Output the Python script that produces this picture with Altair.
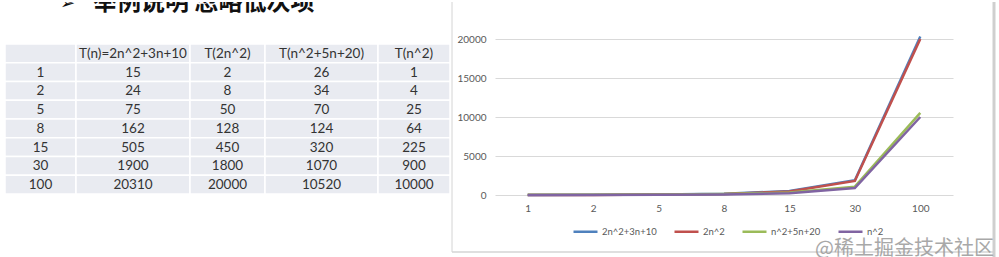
import altair as alt
import pandas as pd

# ---------------- data ----------------
n_values = ["1", "2", "5", "8", "15", "30", "100"]
headers = ["", "T(n)=2n^2+3n+10", "T(2n^2)", "T(n^2+5n+20)", "T(n^2)"]
t_a = [15, 24, 75, 162, 505, 1900, 20310]
t_b = [2, 8, 50, 128, 450, 1800, 20000]
t_c = [26, 34, 70, 124, 320, 1070, 10520]
t_d = [1, 4, 25, 64, 225, 900, 10000]
series_names = ["2n^2+3n+10", "2n^2", "n^2+5n+20", "n^2"]
y_ticks = [0, 5000, 10000, 15000, 20000]
title_text = "举例说明 忽略低次项"
arrow_text = "➢"
watermark_text = "@稀土掘金技术社区"

# ---------------- styles / layout ----------------
series_colors = ["#4f81bd", "#c0504d", "#9bbb59", "#8064a2"]
LEFT_W = 495
H = 257
col_edges = [5, 76, 190, 265, 378, 450]
row_top = 42
row_h = 18.75
PLOT_W = 458
PLOT_H = 193
Y_MAX = 20000 * PLOT_H / 156

# ---------------- table ----------------
series_vals = [t_a, t_b, t_c, t_d]
cells = []
for r in range(len(n_values) + 1):
    for c in range(len(headers)):
        if r == 0:
            label = headers[c]
        elif c == 0:
            label = n_values[r - 1]
        else:
            label = str(series_vals[c - 1][r - 1])
        x0, x1 = col_edges[c], col_edges[c + 1]
        y0 = row_top + r * row_h
        cells.append(dict(x0=x0, x1=x1, y0=y0, y1=y0 + row_h,
                          xc=(x0 + x1) / 2, yc=y0 + row_h / 2 + 0.5, label=label))
cells_df = pd.DataFrame(cells)

xs = alt.Scale(domain=[0, LEFT_W], nice=False, zero=False)
ys = alt.Scale(domain=[0, H], nice=False, zero=False, reverse=True)

table_rect = alt.Chart(cells_df).mark_rect(
    fill="#e9ebf1", stroke="#ffffff", strokeWidth=1.5
).encode(
    x=alt.X("x0:Q", scale=xs, axis=None),
    x2="x1:Q",
    y=alt.Y("y0:Q", scale=ys, axis=None),
    y2="y1:Q",
)
table_text = alt.Chart(cells_df).mark_text(
    font="Lato", fontSize=13.5, color="#333333", baseline="middle", align="center"
).encode(
    x=alt.X("xc:Q", scale=xs, axis=None),
    y=alt.Y("yc:Q", scale=ys, axis=None),
    text="label:N",
)
title = alt.Chart(pd.DataFrame({"t": [title_text]})).mark_text(
    font="Noto Sans CJK SC", fontSize=24, fontWeight="bold", color="#111111",
    align="left", baseline="alphabetic", clip=True
).encode(x=alt.value(93), y=alt.value(8), text="t:N")
arrow = alt.Chart(pd.DataFrame({"t": [arrow_text]})).mark_text(
    font="DejaVu Sans", fontSize=18, color="#111111",
    align="left", baseline="alphabetic", clip=True
).encode(x=alt.value(60), y=alt.value(7), text="t:N")

left = alt.layer(table_rect, table_text, title, arrow).properties(width=LEFT_W, height=H)

# ---------------- line chart ----------------
rows = []
for s, name in enumerate(series_names):
    for i, n in enumerate(n_values):
        rows.append(dict(n=n, series=name, value=series_vals[s][i]))
line_df = pd.DataFrame(rows)

one = pd.DataFrame({"k": [0]})
border_left = alt.Chart(one).mark_rule(color="#d4d4d4", strokeWidth=1).encode(
    x=alt.value(-43), y=alt.value(0), y2=alt.value(250))
border_bottom = alt.Chart(one).mark_rule(color="#d4d4d4", strokeWidth=1.5).encode(
    x=alt.value(-43), x2=alt.value(499), y=alt.value(250))
border_right = alt.Chart(one).mark_rule(color="#cfcfcf", strokeWidth=3).encode(
    x=alt.value(499), y=alt.value(0), y2=alt.value(257))

lines = alt.Chart(line_df).mark_line(strokeWidth=2.5).encode(
    x=alt.X("n:O", sort=n_values, title=None,
            axis=alt.Axis(labelAngle=0, ticks=False, domain=False, grid=False,
                          labelPadding=8, labelFont="Lato", labelFontSize=10,
                          labelColor="#595959")),
    y=alt.Y("value:Q", title=None,
            scale=alt.Scale(domain=[0, Y_MAX], nice=False),
            axis=alt.Axis(values=y_ticks, ticks=False, domain=False, grid=True,
                          gridColor="#d9d9d9", gridWidth=1, labelPadding=9,
                          labelFont="Lato", labelFontSize=10, labelColor="#595959",
                          format="d")),
    color=alt.Color("series:N",
                    scale=alt.Scale(domain=series_names, range=series_colors),
                    legend=alt.Legend(orient="none", legendX=572, legendY=216,
                                      direction="horizontal", title=None,
                                      symbolType="stroke", symbolSize=576,
                                      symbolStrokeWidth=2.5, labelFont="Lato",
                                      labelFontSize=9.5, labelColor="#595959",
                                      labelOffset=3, columnPadding=12, padding=0)),
)

watermark = alt.Chart(pd.DataFrame({"t": [watermark_text]})).mark_text(
    font="Noto Sans CJK SC", fontSize=20, color="#9a9a9a", opacity=0.85,
    align="left", baseline="alphabetic"
).encode(x=alt.value(320), y=alt.value(253), text="t:N")

right = alt.layer(border_left, border_bottom, border_right, lines, watermark).properties(
    width=PLOT_W, height=PLOT_H)

chart = alt.hconcat(left, right, spacing=0, bounds="flush").properties(
    padding=0, background="white"
).configure_view(stroke=None)

chart.save("out.html", embed_options={"renderer": "svg", "actions": False})
